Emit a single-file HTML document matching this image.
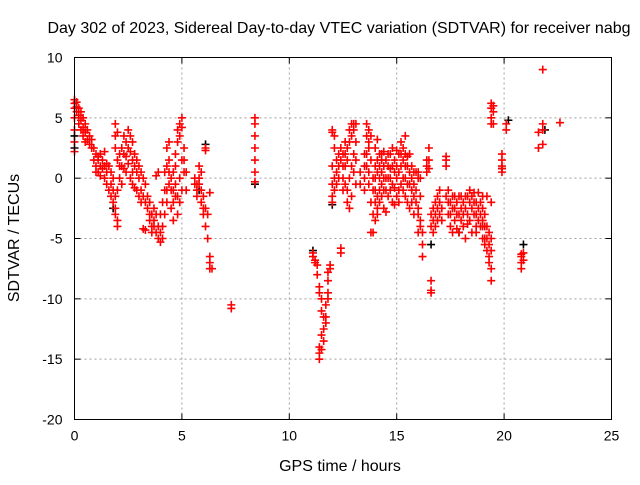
<!DOCTYPE html>
<html><head><meta charset="utf-8"><style>
body{margin:0;background:#fff}
svg text{font-family:"Liberation Sans",sans-serif;fill:#000}
</style></head><body>
<svg id="chart" width="640" height="480">
<text x="339" y="33" font-size="16" text-anchor="middle">Day 302 of 2023, Sidereal Day-to-day VTEC variation (SDTVAR) for receiver nabg</text>
<text x="340" y="471" font-size="16" text-anchor="middle">GPS time / hours</text>
<text x="19" y="238" font-size="16" text-anchor="middle" transform="rotate(-90 19 238)">SDTVAR / TECUs</text>
<g id="grid"></g>
<g id="ticks"></g>
<g id="black"></g>
<g id="red"></g>
<rect x="74.5" y="57.5" width="537" height="362" fill="none" stroke="#000"/>
</svg>
<script>
const xTicks=[0,5,10,15,20,25];
const yTicks=[10,5,0,-5,-10,-15,-20];
const redGroups=[
[0,[6.5,6.2,5.8,5,4,3,2.2]],[0.1,[6.3,5.9,5.5]],[0.2,[5.8,5.2,4.5]],[0.3,[5.5,4.8,4]],[0.4,[5,4.2,3.5]],[0.5,[4.5,3.8,3]],[0.6,[4,3.2]],[0.7,[3.5,2.8]],[0.8,[3.2,2.5]],[0.9,[2.5,1.5]],[1.0,[2,1,0.5]],[1.1,[1.5,0.5,1.8]],[1.2,[1,2,0.2]],[1.3,[1.5,0.8]],[1.4,[1,2.2,0]],[1.5,[0.5,-0.5,1.2]],[1.6,[1,-1]],[1.7,[0.5,-1.5,-0.5]],[1.8,[-1,-2,0]],[1.9,[-2.5,-3,-1.5,4.5,3.5,2.5]],[2.0,[-3.5,-4,-1,3.8,1.5]],[2.1,[2,1,0]],[2.2,[2.5,1,-0.5]],[2.3,[3.5,2,0.8]],[2.4,[3,1.8,0.5]],[2.5,[4,2.5,1.2]],[2.6,[3.5,2.2,0]],[2.7,[3,1.5,0.5,-0.5]],[2.8,[2,1,-0.8]],[2.9,[1.5,0.5,-1]],[3.0,[1,0,-1.5]],[3.1,[0.5,-1,-2]],[3.2,[0,-1.5,-4.2]],[3.3,[-0.5,-2,-4.3]],[3.4,[-1.5,-2.5]],[3.5,[-2,-3,-3.5]],[3.6,[-3,-4,-4.5]],[3.7,[-2.5,-3.5,-4]],[3.8,[-3,-4.5,0.2]],[3.9,[-4,-5,0.5]],[4.0,[-4.5,-5.3,-3]],[4.1,[-4,-5,-2]],[4.2,[-3,-1,0.5]],[4.3,[-2,-1,1,2.5]],[4.4,[-0.5,0.5,1.5,3]],[4.5,[0,-1,-2.5]],[4.6,[-1,-2,0.5,-3.5]],[4.7,[-0.5,-1.5,1,2]],[4.8,[4,3,-1.5,-3]],[4.9,[4.5,3.5,-2,0]],[5.0,[5,4.2,-1,1.5]],[5.1,[2.5,1.5,0.5]],[5.2,[0.5,-1]],[5.6,[-0.5,0]],[5.7,[-1,-0.5,-1.5]],[5.8,[0,1,-0.5]],[5.9,[-1,-2,0.5]],[6.0,[-1.5,-2.5,-3]],[6.1,[2.5,2.3,-2.5,-4]],[6.2,[-3,-5]],[6.3,[-6.5,-7,-7.5,-1.2]],[6.4,[-7.5]],[7.3,[-10.5,-10.8]],[8.4,[5,4.5,3.5,2.5,1.5,0.5,-0.3]],
[11.1,[-6.2,-6.5]],[11.2,[-6.8,-7]],[11.3,[-7.2,-8]],[11.4,[-9,-9.5,-14,-14.5,-15]],[11.5,[-10,-11,-13,-14.2]],[11.6,[-11.5,-12.5,-13.5]],[11.7,[-12,-11.5,-10.5]],[11.8,[-10,-9.5,-8.5,-7.8]],[11.9,[-7.5,-7.2]],
[12.0,[4,3.8,1,-0.5,-1.5,-2]],[12.1,[3.5,2.5,0,-1]],[12.2,[1.5,0.5,-0.5]],[12.3,[2,1,0]],[12.4,[-5.8,-6.2,1.5,2.5]],[12.5,[2,1,0,-1]],[12.6,[3,2,1,-0.5]],[12.7,[2.5,1.5,-1,-2]],[12.8,[4,3,0,-2.5]],[12.9,[4.5,3.5,1,-1.5]],[13.0,[4.5,4,2,0.5]],[13.1,[4.5,3,1.5,-0.5]],[13.3,[0.5,-0.5]],[13.5,[2,1,0,-1]],[13.6,[4.5,3.5,2,1]],[13.7,[4,3,2.5,0.5,-0.5]],[13.8,[3.5,1.5,-4.5,-2]],[13.9,[-3,-4.5,0,-1]],[14.0,[-3.5,-2,-1,0,1,2.5]],[14.1,[-3,-2.5,-1.5,0.5,1.5,3.2]],[14.2,[-2,-1,0,1,2]],[14.3,[-1.5,-0.5,0.5,1.5,2]],[14.4,[-2.5,-1,0,1,2.2]],[14.5,[-2.8,-1,0,1.5]],[14.6,[-1.5,0,1,2]],[14.7,[-1,0,0.8,2]],[14.8,[-2,-0.5,1,2.5]],[14.9,[-2.2,-0.8,0.5,1.5]],[15.0,[-1.5,0,1,2.3]],[15.1,[-2,-1,0.5,2]],[15.2,[-0.5,1,2,3]],[15.3,[-1,0,1.5,2.5]],[15.4,[-1.5,0,1,2,3.5]],[15.5,[-2,-0.5,1,1.8]],[15.6,[-2.5,-0.5,0.5,2]],[15.7,[-2,-1,0,1]],[15.8,[-3,-1.5,-0.5,0.5]],[15.9,[-2,-1,0.5]],[16.0,[-2.5,-3,-4.5,0,0.5]],[16.1,[-3.5,-4,0,-1.5]],[16.2,[-4.5,-5.5,-6.5]],[16.4,[0.5,1.5,1]],[16.5,[1.5,2.5,0.8]],[16.6,[-8.5,-9.3,-9.5,-3,-4]],[16.7,[-3.5,-4.5,-2.5]],[16.8,[-3,-4,-2]],[16.9,[-2.5,-3.5,-1.5]],[17.0,[-3,-2,-1]],[17.1,[-2.5,-3.5]],[17.3,[-1.5,1.5,1.8,1]],[17.4,[-3,-2,-1]],[17.5,[-2,-4,-3]],[17.6,[-1.5,-2.5,-4.5]],[17.7,[-1.5,-2.5,-3.5]],[17.8,[-2,-3,-4.2]],[17.9,[-1.5,-3,-4.5]],[18.0,[-1.5,-2.5,-3.5]],[18.1,[-2,-3,-4]],[18.2,[-1.5,-2.5,-5]],[18.3,[-1.5,-3,-3.8]],[18.4,[-1,-2,-3.5]],[18.5,[-1.5,-2.5,-4.5]],[18.6,[-2,-3,-1.2]],[18.7,[-2,-3,-4,-4.5]],[18.8,[-1.2,-2.5,-3.5]],[18.9,[-2,-3,-4]],[19.0,[-1.5,-2.5,-3.5,-5,-4]],[19.1,[-3,-4,-5,-5.5]],[19.2,[-4,-5,-6,-1.5]],[19.3,[-4.5,-5.5,-6.5,-7]],[19.4,[-5,-6,-7.5,-8.5,-2,6.2,5.8,5,4.5]],[19.5,[4.5,5.5,6]],[19.9,[1.5,0.8,0.5,1,2]],[20.1,[4,4.5]],[20.8,[-6.3,-6.5,-7,-7.5]],[20.9,[-6.2,-6.8]],[21.6,[3.8,2.5]],[21.8,[9,4.5,2.8,4]],[22.6,[4.6]]
];
const blackTimes=[0,0,1.8,5.8,6.1,8.4,11.1,12.0,16.6,17.9,19.9,20.2,20.9,21.9];
const blackValues=[2.5,3.5,-2.5,-1,2.8,-0.5,-6,-2.2,-5.5,-4.5,0.8,4.8,-5.5,4];

const L=74.5,R=611.5,T=57.5,B=419.5;
const xS=t=>L+(t-0)/25*(R-L);
const yS=v=>T+(10-v)/30*(B-T);
const NS='http://www.w3.org/2000/svg';
function mk(tag,attrs,parent){const e=document.createElementNS(NS,tag);for(const k in attrs)e.setAttribute(k,attrs[k]);parent.appendChild(e);return e;}
const grid=document.getElementById('grid'),ticks=document.getElementById('ticks');
xTicks.forEach(t=>{const x=xS(t);
 if(t>0&&t<25){const g=mk('line',{x1:x,x2:x,y1:T,y2:B,stroke:'#a0a0a0','stroke-dasharray':'2,3'},grid);
 
 }
 mk('line',{x1:x,x2:x,y1:B,y2:B-6,stroke:'#000'},ticks);mk('line',{x1:x,x2:x,y1:T,y2:T+6,stroke:'#000'},ticks);
 const lb=mk('text',{x:x,y:B+21,'font-size':14,'text-anchor':'middle'},ticks);lb.textContent=t;
 
 
});
yTicks.forEach(v=>{const y=yS(v);
 if(v<10&&v>-20){const g=mk('line',{x1:L,x2:R,y1:y,y2:y,stroke:'#a0a0a0','stroke-dasharray':'2,3'},grid);
 
 }
 mk('line',{x1:L,x2:L+6,y1:y,y2:y,stroke:'#000'},ticks);mk('line',{x1:R,x2:R-6,y1:y,y2:y,stroke:'#000'},ticks);
 const lb=mk('text',{x:L-12,y:y+5,'font-size':14,'text-anchor':'end'},ticks);lb.textContent=v;
 
 
});
function plus(t,v,col,parent,name){const x=xS(t),y=yS(v);
 const p=mk('path',{d:`M${x-4},${y}H${x+4}M${x},${y-4}V${y+4}`,stroke:col,'stroke-width':1.6,fill:'none'},parent);
 
 
}
const bg=document.getElementById('black');
blackTimes.forEach((t,i)=>plus(t,blackValues[i],'#000',bg,'black-point'));
const rg=document.getElementById('red');
redGroups.forEach(g=>g[1].forEach(v=>plus(g[0],v,'#ff0000',rg,'red-point')));
</script>
</body></html>
